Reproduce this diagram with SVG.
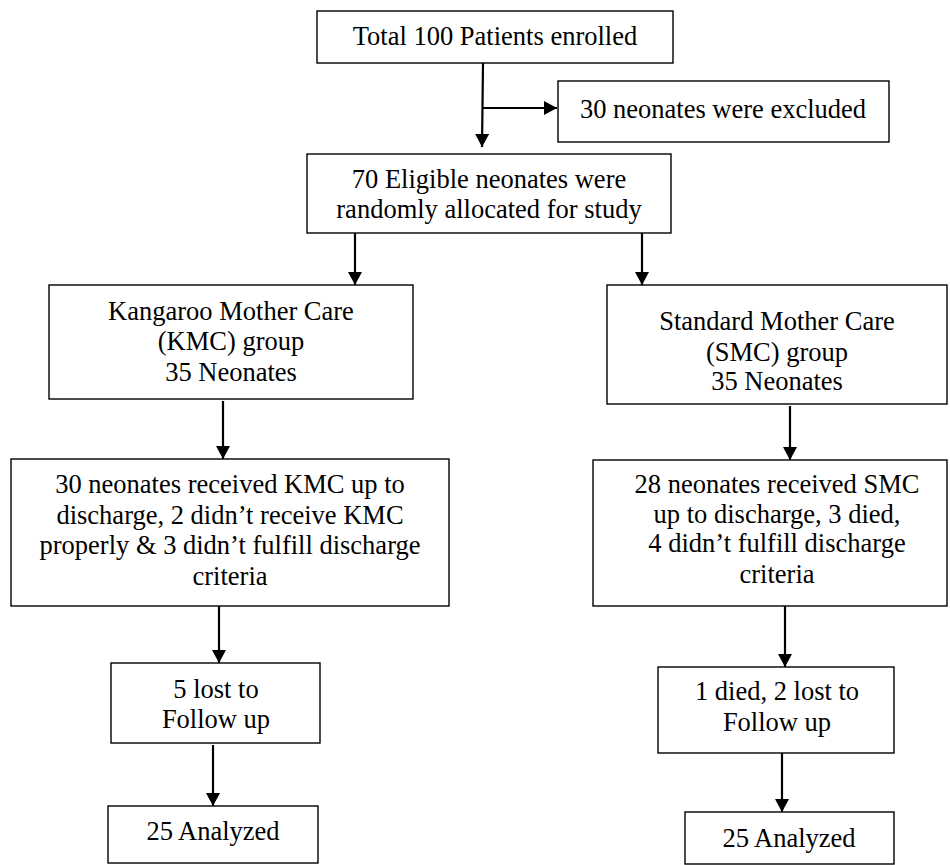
<svg xmlns="http://www.w3.org/2000/svg" width="950" height="865" viewBox="0 0 950 865">
<style>
.box{fill:#fff;stroke:#000;stroke-width:1.4}
text{font-family:'Liberation Serif','Times New Roman','DejaVu Serif',serif;font-size:26.5px;fill:#000;text-anchor:middle}
.c{stroke:#000;stroke-width:2.2;fill:none;marker-end:url(#ah)}
</style>
<defs>
<marker id="ah" markerWidth="14" markerHeight="14" refX="13" refY="7" orient="auto" markerUnits="userSpaceOnUse">
<path d="M0,0 L13,7 L0,14 z" fill="#000"/>
</marker>
</defs>
<rect width="950" height="865" fill="#fff"/>
<g id="connectors">
<line x1="483" y1="63" x2="482" y2="147" class="c"/>
<line x1="483" y1="108" x2="557" y2="108" class="c"/>
<line x1="355" y1="233" x2="355" y2="285" class="c"/>
<line x1="642" y1="233" x2="642" y2="285" class="c"/>
<line x1="223" y1="401" x2="223" y2="459" class="c"/>
<line x1="790" y1="406" x2="790" y2="460" class="c"/>
<line x1="219" y1="606" x2="219" y2="663" class="c"/>
<line x1="785" y1="606" x2="785" y2="667" class="c"/>
<line x1="213" y1="745" x2="213" y2="806" class="c"/>
<line x1="782" y1="753" x2="782" y2="812" class="c"/>
</g>
<g id="enrolled">
<rect class="box" x="317" y="11" width="356" height="52"/>
<text x="495" y="45">Total 100 Patients enrolled</text>
</g>
<g id="excluded">
<rect class="box" x="558" y="81" width="331" height="61"/>
<text x="723" y="118">30 neonates were excluded</text>
</g>
<g id="eligible">
<rect class="box" x="307" y="154" width="364" height="79"/>
<text x="489" y="188">70 Eligible neonates were</text>
<text x="489" y="218">randomly allocated for study</text>
</g>
<g id="kmc">
<rect class="box" x="49" y="285" width="364" height="114"/>
<text x="231" y="320">Kangaroo Mother Care</text>
<text x="231" y="350">(KMC) group</text>
<text x="231" y="381">35 Neonates</text>
</g>
<g id="smc">
<rect class="box" x="607" y="285" width="340" height="119"/>
<text x="777" y="330">Standard Mother Care</text>
<text x="777" y="361">(SMC) group</text>
<text x="777" y="390">35 Neonates</text>
</g>
<g id="kmc-discharge">
<rect class="box" x="11" y="459" width="438" height="147"/>
<text x="230" y="493">30 neonates received KMC up to</text>
<text x="230" y="524">discharge, 2 didn’t receive KMC</text>
<text x="230" y="554">properly &amp; 3 didn’t fulfill discharge</text>
<text x="230" y="585">criteria</text>
</g>
<g id="smc-discharge">
<rect class="box" x="593" y="460" width="354" height="146"/>
<text x="777" y="493">28 neonates received SMC</text>
<text x="777" y="523">up to discharge, 3 died,</text>
<text x="777" y="552">4 didn’t fulfill discharge</text>
<text x="777" y="583">criteria</text>
</g>
<g id="kmc-lost">
<rect class="box" x="111" y="663" width="209" height="80"/>
<text x="216" y="698">5 lost to</text>
<text x="216" y="728">Follow up</text>
</g>
<g id="smc-lost">
<rect class="box" x="658" y="667" width="236" height="86"/>
<text x="777" y="700">1 died, 2 lost to</text>
<text x="777" y="731">Follow up</text>
</g>
<g id="kmc-analyzed">
<rect class="box" x="108" y="806" width="210" height="57"/>
<text x="213" y="840">25 Analyzed</text>
</g>
<g id="smc-analyzed">
<rect class="box" x="685" y="812" width="209" height="52"/>
<text x="789" y="847">25 Analyzed</text>
</g>
</svg>
